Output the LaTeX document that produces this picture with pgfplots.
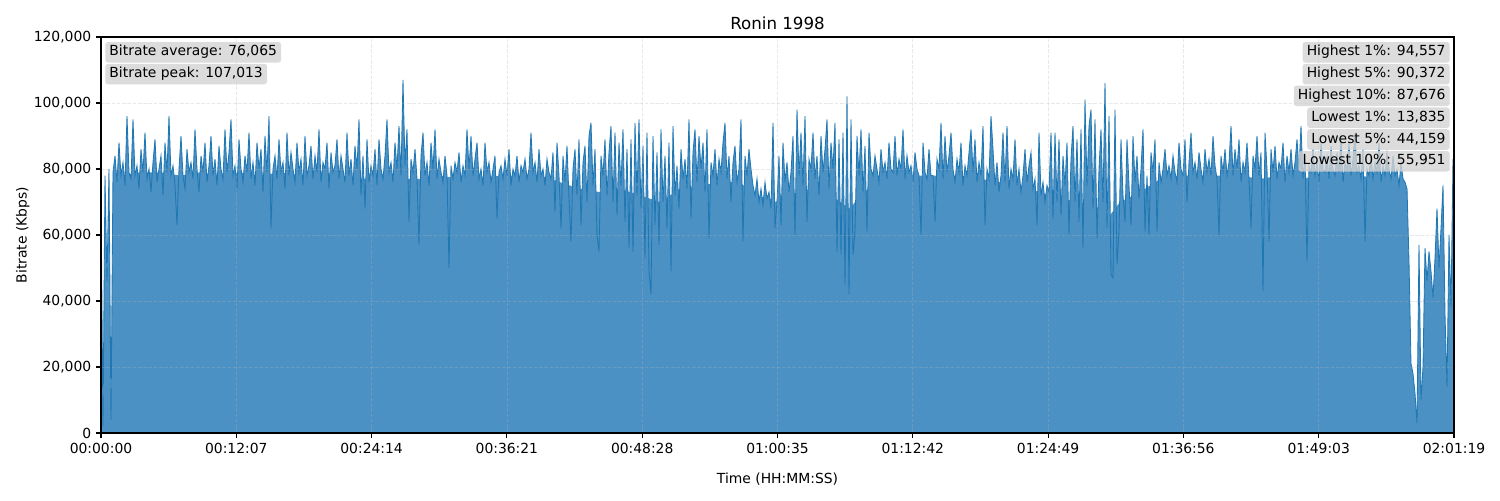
\documentclass[border=0pt]{standalone}
\usepackage{fontspec}
\setmainfont{DejaVu Sans}
\usepackage{pgfplots}
\usepackage{pgfplotstable}
\pgfplotsset{compat=1.18}
\definecolor{tabblue}{RGB}{31,119,180}
\definecolor{fillblue}{RGB}{75,145,195}
\definecolor{boxgray}{RGB}{211,211,211}

% bitrate in thousands of Kbps, one sample every 10.7598 s
\pgfplotstableread[row sep=\\]{
k\\
73\\2\\78\\46\\80\\4\\
79\\84\\76\\88\\78\\82\\75\\96\\79\\77\\
95\\78\\81\\74\\86\\79\\91\\77\\80\\73\\
82\\89\\76\\80\\84\\72\\88\\79\\96\\78\\
81\\75\\63\\80\\90\\78\\74\\86\\79\\82\\
77\\92\\80\\73\\84\\79\\88\\76\\81\\90\\
78\\83\\75\\87\\80\\77\\92\\79\\85\\95\\
78\\81\\74\\89\\80\\76\\84\\79\\91\\77\\
82\\75\\88\\80\\86\\73\\90\\79\\96\\62\\
80\\84\\77\\89\\79\\82\\74\\91\\78\\85\\
80\\76\\88\\79\\83\\75\\90\\78\\81\\87\\
77\\84\\79\\92\\76\\82\\80\\88\\74\\85\\
79\\81\\89\\77\\84\\80\\76\\91\\78\\83\\
75\\87\\80\\95\\72\\84\\68\\89\\76\\81\\
78\\86\\75\\89\\80\\77\\84\\95\\79\\82\\
76\\88\\80\\93\\78\\107\\81\\92\\64\\83\\
79\\86\\77\\57\\84\\91\\78\\82\\75\\88\\
80\\92\\77\\83\\79\\76\\84\\78\\50\\81\\
77\\82\\79\\85\\76\\81\\78\\92\\80\\90\\
78\\83\\88\\77\\80\\75\\88\\79\\82\\76\\
80\\84\\65\\79\\81\\77\\83\\78\\86\\75\\
80\\78\\84\\76\\81\\79\\83\\77\\80\\91\\
79\\82\\76\\86\\78\\80\\75\\83\\79\\77\\
85\\67\\88\\78\\62\\84\\76\\87\\71\\58\\
80\\86\\72\\89\\63\\82\\87\\70\\90\\94\\
75\\86\\60\\55\\84\\78\\89\\72\\85\\93\\
70\\91\\66\\88\\75\\92\\64\\86\\56\\89\\
55\\94\\72\\95\\68\\87\\53\\91\\49\\42\\
90\\63\\85\\57\\92\\70\\84\\62\\88\\49\\
93\\72\\81\\68\\86\\77\\83\\74\\95\\65\\
85\\92\\76\\90\\80\\88\\73\\92\\59\\82\\
78\\86\\75\\83\\79\\88\\94\\77\\84\\70\\
82\\87\\76\\80\\95\\58\\84\\78\\86\\80\\
75\\72\\77\\70\\74\\69\\76\\71\\73\\68\\
94\\62\\70\\84\\63\\88\\76\\82\\73\\79\\
90\\60\\98\\78\\91\\75\\96\\64\\83\\80\\
91\\77\\84\\72\\90\\79\\86\\95\\74\\88\\
80\\94\\55\\89\\54\\91\\45\\102\\42\\95\\
54\\61\\90\\78\\92\\73\\87\\61\\91\\80\\
78\\84\\80\\76\\86\\79\\82\\77\\88\\80\\
79\\90\\78\\83\\80\\92\\77\\84\\79\\81\\
76\\85\\80\\78\\60\\88\\79\\77\\86\\78\\
78\\64\\83\\80\\94\\77\\90\\79\\84\\91\\
80\\76\\83\\79\\88\\75\\81\\78\\85\\92\\
79\\89\\76\\82\\78\\93\\63\\80\\77\\96\\
86\\75\\82\\73\\78\\91\\76\\93\\74\\80\\
77\\89\\75\\80\\73\\78\\86\\76\\81\\85\\
74\\77\\63\\91\\72\\76\\70\\75\\73\\91\\
65\\91\\70\\89\\66\\84\\75\\88\\60\\83\\
93\\70\\89\\64\\92\\56\\101\\75\\93\\98\\
68\\95\\59\\80\\92\\70\\106\\62\\96\\48\\
47\\98\\51\\61\\89\\72\\64\\89\\75\\63\\
90\\76\\84\\71\\80\\92\\61\\78\\60\\85\\
79\\89\\61\\82\\76\\80\\86\\78\\81\\77\\
84\\79\\76\\88\\80\\78\\89\\70\\82\\91\\
79\\82\\77\\85\\80\\76\\86\\79\\83\\78\\
90\\81\\77\\60\\84\\79\\86\\78\\82\\93\\
78\\86\\80\\89\\76\\82\\79\\88\\77\\62\\
84\\80\\90\\78\\85\\43\\91\\80\\58\\86\\
79\\87\\77\\82\\80\\88\\76\\84\\79\\86\\
78\\82\\89\\80\\93\\77\\84\\52\\81\\79\\
86\\78\\82\\76\\88\\80\\79\\84\\77\\87\\
80\\78\\85\\79\\90\\76\\82\\80\\88\\78\\
83\\91\\79\\81\\77\\86\\58\\80\\78\\84\\
77\\82\\79\\88\\76\\81\\78\\85\\80\\77\\
84\\78\\80\\75\\82\\77\\76\\74\\
52\\
21\\18\\12\\3\\57\\10\\20\\56\\46\\55\\49\\41\\53\\68\\50\\62\\75\\36\\14\\60\\38\\83\\
33\\
}\bitrate

% top of the solid fill (thousands of Kbps) against time in seconds
\pgfplotstableread[row sep=\\]{
t y\\
64.6 76\\ 102.2 78\\ 209.8 79\\ 317.4 79\\ 425.0 78\\ 532.6 79\\ 640.2 78\\
747.8 79\\ 855.4 78\\ 963.0 79\\ 1070.6 78\\ 1178.2 79\\ 1285.8 78\\ 1393.4 77\\
1501.0 77\\ 1608.6 77\\ 1716.2 77\\ 1823.8 78\\ 1931.4 77\\ 2039.0 77\\ 2146.6 78\\
2254.2 78\\ 2361.8 78\\ 2469.4 76\\ 2577.0 74\\ 2684.6 73\\ 2792.2 74\\ 2899.8 72\\
3007.4 70\\ 3115.0 74\\ 3222.6 75\\ 3330.2 76\\ 3437.8 76\\ 3518.5 72\\ 3599.2 71\\
3631.4 70\\ 3652.9 72\\ 3760.5 73\\ 3868.1 75\\ 3975.7 70\\ 4029.5 68\\ 4083.3 72\\
4190.9 77\\ 4298.5 78\\ 4406.1 78\\ 4513.7 78\\ 4621.3 78\\ 4728.9 77\\ 4836.5 76\\
4944.1 75\\ 5051.7 73\\ 5159.3 71\\ 5266.9 70\\ 5374.5 68\\ 5428.3 66\\ 5482.1 70\\
5589.7 73\\ 5697.3 77\\ 5804.9 78\\ 5912.5 78\\ 6020.1 78\\ 6127.7 78\\ 6235.3 77\\
6342.9 78\\ 6450.5 77\\ 6558.1 78\\ 6665.7 78\\ 6773.3 78\\ 6880.9 77\\ 6988.5 76\\
7026.2 74\\
}\envelope

\begin{document}
\begin{tikzpicture}
\begin{axis}[
  at={(0,0)}, anchor=south west,
  width=974.16pt, height=285.12pt, scale only axis,
  xmin=0, xmax=7279, ymin=0, ymax=120000,
  xtick={0,727.9,1455.8,2183.7,2911.6,3639.5,4367.4,5095.3,5823.2,6551.1,7279},
  xticklabels={00:00:00,00:12:07,00:24:14,00:36:21,00:48:28,01:00:35,01:12:42,01:24:49,01:36:56,01:49:03,02:01:19},
  ytick={0,20000,40000,60000,80000,100000,120000},
  yticklabels={0,{20,000},{40,000},{60,000},{80,000},{100,000},{120,000}},
  scaled y ticks=false, scaled x ticks=false,
  xtick pos=bottom, ytick pos=left,
  tick align=outside, major tick length=3.5pt,
  tick style={black, line width=0.8pt},
  axis line style={black, line width=0.8pt},
  tick label style={font=\normalsize},
  grid=major,
  grid style={black!30, opacity=0.3, line width=0.5pt, dash pattern=on 2.6pt off 1.2pt},
  axis on top,
]
\addplot[fill=fillblue, draw=none] table[x=t, y expr=\thisrow{y}*1000] {\envelope} \closedcycle;
\addplot[fill=fillblue, draw=none] table[x index=0, y index=0, x expr=\coordindex*10.7598, y expr=\thisrowno{0}*1000] {\bitrate} \closedcycle;
\addplot[tabblue, line width=0.6pt] table[x index=0, y index=0, x expr=\coordindex*10.7598, y expr=\thisrowno{0}*1000] {\bitrate};
\end{axis}
\node[anchor=base, font=\large] at ([yshift=5.5pt]current axis.north) {Ronin 1998};
\node[anchor=base] at ([yshift=-36pt]current axis.south) {Time (HH:MM:SS)};
\node[anchor=base, rotate=90] at ([xshift=-53.6pt]current axis.west) {Bitrate (Kbps)};
\tikzset{box/.style={fill=boxgray, fill opacity=0.8, text opacity=1, rounded corners=2pt,
  inner xsep=3pt, inner ysep=2.4pt, text height=7.6pt, text depth=2.4pt}}
\node[box, anchor=north west] at ([xshift=2.9pt, yshift=-3.4pt]current axis.north west) {Bitrate average: 76,065};
\node[box, anchor=north west] at ([xshift=2.9pt, yshift=-19.1pt]current axis.north west) {Bitrate peak: 107,013};
\node[box, anchor=north east] at ([xshift=-2.9pt, yshift=-3.4pt]current axis.north east) {Highest 1\%: 94,557};
\node[box, anchor=north east] at ([xshift=-2.9pt, yshift=-19.1pt]current axis.north east) {Highest 5\%: 90,372};
\node[box, anchor=north east] at ([xshift=-2.9pt, yshift=-34.8pt]current axis.north east) {Highest 10\%: 87,676};
\node[box, anchor=north east] at ([xshift=-2.9pt, yshift=-50.5pt]current axis.north east) {Lowest 1\%: 13,835};
\node[box, anchor=north east] at ([xshift=-2.9pt, yshift=-66.2pt]current axis.north east) {Lowest 5\%: 44,159};
\node[box, anchor=north east] at ([xshift=-2.9pt, yshift=-81.9pt]current axis.north east) {Lowest 10\%: 55,951};
\pgfresetboundingbox
\path[use as bounding box] (-72.72pt,-48.24pt) rectangle (1007.28pt,311.76pt);
\end{tikzpicture}
\end{document}
